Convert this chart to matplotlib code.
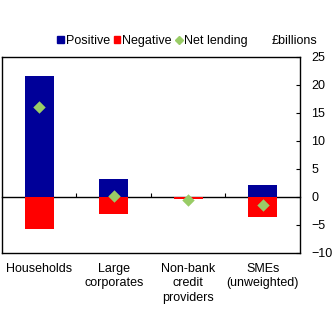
import matplotlib.pyplot as plt
from matplotlib.lines import Line2D
from matplotlib.patches import Patch
import numpy as np

plt.rcParams['font.family'] = ['Liberation Sans', 'DejaVu Sans']

# data
categories = ['Households', 'Large\ncorporates', 'Non-bank\ncredit\nproviders', 'SMEs\n(unweighted)']
positive = [21.6, 3.2, 0.0, 2.1]
negative = [-5.7, -3.0, -0.4, -3.6]
net_lending = [16.0, 0.2, -0.5, -1.5]

blue = '#000099'
red = '#ff0000'
green = '#99cc66'

fig = plt.figure(figsize=(3.34, 3.35), dpi=100)
ax = fig.add_axes([0.006, 0.245, 0.892, 0.585])

x = np.arange(len(categories))
ax.bar(x, positive, width=0.39, color=blue, zorder=2)
ax.bar(x, negative, width=0.39, color=red, zorder=2)
ax.scatter(x, net_lending, marker='D', s=40, color=green, zorder=4, linewidths=0)

ymin, ymax = -10, 25
ax.set_ylim(ymin, ymax)
ax.set_xlim(-0.5, len(categories) - 0.5)

ax.yaxis.tick_right()
ax.set_yticks(np.arange(-10, 26, 5))
ax.tick_params(axis='y', direction='in', length=3, labelsize=9, pad=8)
ax.set_xticks(x)
ax.set_xticklabels(categories, fontsize=9, linespacing=1.3)
ax.tick_params(axis='x', length=0, pad=7)
for s in ax.spines.values():
    s.set_linewidth(1.0)

# zero line with tick marks between categories
zero = ax.secondary_xaxis((0 - ymin) / (ymax - ymin))
zero.set_xticks([0.5, 1.5, 2.5])
zero.set_xticklabels([])
zero.tick_params(direction='in', length=3, width=0.8)
zero.spines['bottom'].set_linewidth(1.0)
zero.spines['bottom'].set_zorder(3)

handles = [Patch(color=blue), Patch(color=red),
           Line2D([], [], marker='D', color=green, linestyle='none', markersize=4.5)]
fig.legend(handles, ['Positive', 'Negative', 'Net lending'], loc='center',
           bbox_to_anchor=(0.457, 0.877), ncol=3, frameon=False, fontsize=9,
           handlelength=0.5, handleheight=0.5, handletextpad=0.15, columnspacing=0.35)
fig.text(0.883, 0.877, '£billions', ha='center', va='center', fontsize=9)

fig.savefig('out.png')
